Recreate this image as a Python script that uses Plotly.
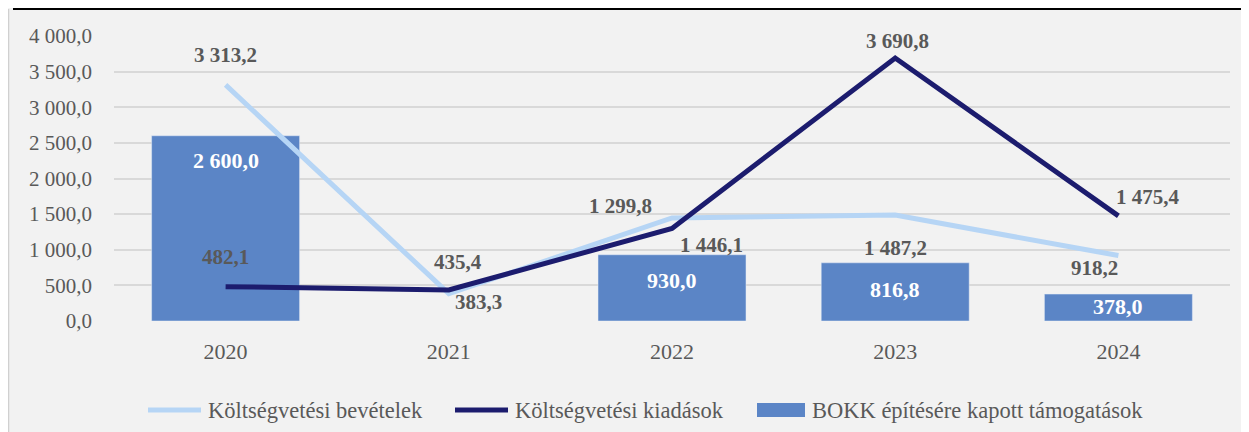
import plotly.graph_objects as go

years = ["2020", "2021", "2022", "2023", "2024"]
bevetelek = [3313.2, 383.3, 1446.1, 1487.2, 918.2]
kiadasok = [482.1, 435.4, 1299.8, 3690.8, 1475.4]
tamogatas = [2600.0, None, 930.0, 816.8, 378.0]
y_ticks = [0, 500, 1000, 1500, 2000, 2500, 3000, 3500, 4000]

names = ["Költségvetési bevételek", "Költségvetési kiadások", "BOKK építésére kapott támogatások"]

# label offsets in pixels (dx, dy-up)
bev_off = [(0, 30), (30, -8), (39, -27), (0, -33), (-24, -12)]
kia_off = [(0, 30), (9, 28), (-52, 22), (2, 17), (30, 19)]
bar_off = [-25, None, -26, -27, -12]


def fmt(v):
    s = f"{v:,.1f}"
    return s.replace(",", " ").replace(".", ",")


FONT = "Liberation Serif"
GREY = "#595959"
C_LIGHT = "#b6d5f5"
C_DARK = "#1c1c6e"
C_BAR = "#5b85c6"
LBL = 21

fig = go.Figure()
fig.add_trace(go.Bar(x=years, y=tamogatas, name=names[2], marker_color=C_BAR,
                     width=0.663, hoverinfo="skip", showlegend=False))
fig.add_trace(go.Scatter(x=years, y=bevetelek, name=names[0], mode="lines",
                         line=dict(color=C_LIGHT, width=5), showlegend=False))
fig.add_trace(go.Scatter(x=years, y=kiadasok, name=names[1], mode="lines",
                         line=dict(color=C_DARK, width=5), showlegend=False))

ann = []
for i, (v, (dx, dy)) in enumerate(zip(bevetelek, bev_off)):
    ann.append(dict(x=i, y=v, xref="x", yref="y", text=f"<b>{fmt(v)}</b>", showarrow=False,
                    xshift=dx, yshift=dy, font=dict(family=FONT, size=LBL, color=GREY)))
for i, (v, (dx, dy)) in enumerate(zip(kiadasok, kia_off)):
    ann.append(dict(x=i, y=v, xref="x", yref="y", text=f"<b>{fmt(v)}</b>", showarrow=False,
                    xshift=dx, yshift=dy, font=dict(family=FONT, size=LBL, color=GREY)))
for i, (v, dy) in enumerate(zip(tamogatas, bar_off)):
    if v is None:
        continue
    ann.append(dict(x=i, y=v, xref="x", yref="y", text=f"<b>{fmt(v)}</b>", showarrow=False,
                    yshift=dy, font=dict(family=FONT, size=22, color="white")))

# page body has an 8px margin, so the figure starts at screen (8, 8)
OFF = 8
SW, SH = 1249, 432
W, H = SW - OFF, SH - OFF
PL, PR, PT, PB = 114, 1230, 36, 321  # plot area in screen pixels
L, R, T, B = PL - OFF, SW - PR, PT - OFF, SH - PB
pw, ph = PR - PL, PB - PT


def px(X):
    return (X - PL) / pw


def py(Y):
    return (PB - Y) / ph


shapes = [
    dict(type="line", xref="paper", yref="paper", x0=px(8.5), x1=px(8.5), y0=py(9), y1=py(SH),
         line=dict(color="#d0d0d0", width=1.5)),
    dict(type="line", xref="paper", yref="paper", x0=px(13), x1=px(SW), y0=py(9), y1=py(9),
         line=dict(color="black", width=2)),
]

# custom legend (symbol spans in screen pixels, text start)
LEG_Y = 410
legend_items = [
    ("line", C_LIGHT, 148, 201, 206, names[0]),
    ("line", C_DARK, 455, 508, 513, names[1]),
    ("rect", C_BAR, 757, 805, 810, names[2]),
]
for kind, col, x0, x1, tx, label in legend_items:
    if kind == "line":
        shapes.append(dict(type="line", xref="paper", yref="paper", x0=px(x0), x1=px(x1),
                           y0=py(LEG_Y), y1=py(LEG_Y), line=dict(color=col, width=5)))
    else:
        shapes.append(dict(type="rect", xref="paper", yref="paper", x0=px(x0), x1=px(x1),
                           y0=py(LEG_Y + 7), y1=py(LEG_Y - 7), fillcolor=col, line_width=0))
    ann.append(dict(x=px(tx), y=py(LEG_Y), xref="paper", yref="paper", text=label,
                    showarrow=False, xanchor="left", yanchor="middle",
                    font=dict(family=FONT, size=22.5, color=GREY)))

fig.update_layout(
    width=W, height=H,
    margin=dict(l=L, r=R, t=T, b=B, autoexpand=False),
    paper_bgcolor="#f2f2f2", plot_bgcolor="#f2f2f2",
    font=dict(family=FONT, size=21, color=GREY),
    showlegend=False,
    annotations=ann,
    shapes=shapes,
    xaxis=dict(type="category", categoryorder="array", categoryarray=years,
               range=[-0.5, len(years) - 0.5], autorange=False, automargin=False,
               showgrid=False, showline=False, zeroline=False, ticks="",
               tickfont=dict(family=FONT, size=22, color=GREY), ticklabelstandoff=15),
    yaxis=dict(range=[0, 4000], autorange=False, automargin=False,
               tickvals=y_ticks, ticktext=[fmt(v) for v in y_ticks],
               showgrid=True, gridcolor="#d9d9d9", gridwidth=1.5, zeroline=False,
               showline=False, ticks="", ticklabelstandoff=21,
               tickfont=dict(family=FONT, size=21, color=GREY)),
)

fig.write_html("out.html")
